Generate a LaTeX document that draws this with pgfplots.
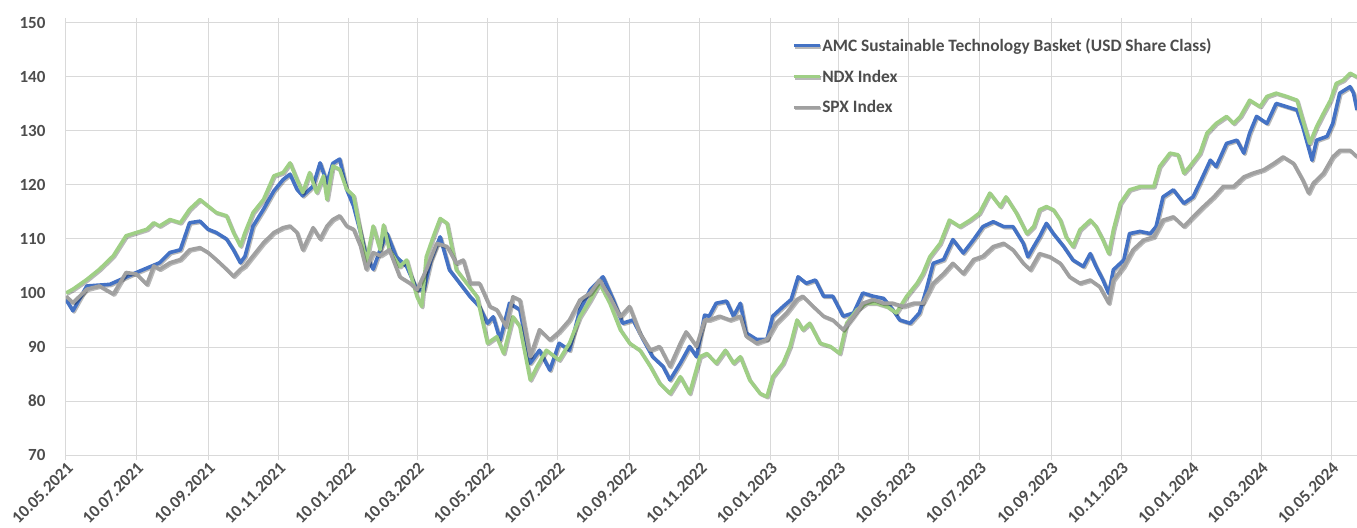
\documentclass[border=0pt]{standalone}
\usepackage{fontspec}
\setmainfont{Carlito}
\usepackage{pgfplots}
\usepackage{pgfplotstable}
\pgfplotsset{compat=1.18}

\definecolor{amcblue}{HTML}{4472C4}
\definecolor{ndxgreen}{HTML}{9FCF85}
\definecolor{spxgray}{HTML}{A0A0A0}
\definecolor{gridgray}{HTML}{D9D9D9}
\definecolor{labelgray}{HTML}{4D4D4D}

% day = days since 10.05.2021
\pgfplotstableread{
day val
0 98.8
6 96.7
18 101.3
38 101.6
61 103.8
81 105.6
90 107.5
99 108
107 113
116 113.3
123 111.8
130 111.2
139 110
145 108
151 105.6
155 106.8
162 112.4
171 115.5
180 118.9
188 121
194 122
200 119.2
205 118
214 119.8
220 124.1
226 120.4
231 124
237 124.8
243 119.2
249 116.1
255 111.2
260 106.9
266 104.4
272 108
278 111
286 106.7
295 104.9
304 100.6
310 100.6
316 106.1
324 110.4
332 104.3
341 101.8
350 99.3
358 97.5
365 94.4
370 95.6
376 91.3
384 98.1
393 96.9
402 87
410 89.4
419 85.7
427 90.7
436 89.4
445 96.9
454 100.6
465 103
474 98.7
482 94.4
491 95
500 91.3
508 88.2
517 86.4
523 83.9
532 87
540 90.1
546 88.2
553 95.9
557 95.7
563 98.1
572 98.5
578 95.7
584 98.1
589 92.6
598 91.4
607 91.4
612 95.7
621 97.5
628 98.8
634 103
641 101.8
649 102.4
656 99.4
664 99.4
673 95.7
682 96.3
690 100
699 99.4
708 99
716 96.9
722 95
731 94.4
739 96.3
745 100.6
751 105.5
760 106.2
768 109.9
777 107.4
786 109.9
794 112.3
803 113.2
812 112.3
820 112.3
829 109.2
833 106.7
838 108.6
843 110.4
849 112.9
855 111
864 108.6
872 106.1
881 104.9
887 107.3
892 104.9
898 102.4
903 99.9
907 104.3
916 106.1
921 111
930 111.4
939 111
944 112.3
950 117.8
959 119.1
968 116.6
976 117.8
983 120.9
991 124.6
996 123.4
1005 127.7
1014 128.3
1020 125.9
1025 129.6
1031 132.7
1040 131.4
1048 135.1
1057 134.5
1066 133.9
1071 130.8
1079 124.6
1083 128.3
1092 129
1097 131.4
1103 137
1112 138.2
1115 137
1118 133.9
}\amc

\pgfplotstableread{
day val
0 100
6 100.7
18 102.5
29 104.4
41 106.9
52 110.6
61 111.2
70 111.8
76 113
81 112.4
90 113.6
99 113
107 115.5
116 117.3
123 116.1
130 114.9
139 114.3
145 111.2
151 108.7
155 111.2
162 114.9
171 117.3
180 121.7
188 122.3
194 124.1
200 121
205 118.6
211 122.3
217 118.6
223 121.7
226 117.3
231 123.5
237 122.9
243 119.2
249 118
255 111.2
260 105.6
266 112.4
272 108
275 112.6
280 108
289 104.9
295 106.1
304 99.3
308 97.5
312 106.7
318 110.4
324 113.8
330 112.9
338 104.3
347 101.8
356 99.3
365 90.7
373 91.9
379 88.8
387 95.6
393 93.8
402 83.9
408 86.4
416 89.4
427 87.6
436 90.7
445 95.6
454 98.7
462 101.8
471 98.1
480 93.2
488 90.7
497 89.4
506 86.4
514 83.3
523 81.4
532 84.5
540 81.4
549 88.2
555 88.8
563 87
571 89.4
578 87
584 88.2
592 83.9
601 81.4
607 80.8
612 84.5
621 87
627 90.1
633 95
638 93.2
644 94.4
653 90.7
662 90.1
670 88.8
676 94.4
685 96.9
693 98.1
702 98.1
711 97.5
719 96.3
728 99.4
737 101.8
742 103.6
748 106.7
757 109.2
765 113.5
774 112.3
783 113.5
791 114.8
800 118.5
809 116
814 117.8
823 114.8
832 111
838 112.3
843 115.4
849 116
855 115.4
861 113.5
866 110.4
872 108.6
878 111.7
887 113.5
892 112.3
898 109.8
903 107.3
907 111.7
913 116.6
921 119.1
930 119.7
942 119.7
947 123.4
956 125.9
963 125.6
968 122.2
973 123.4
982 125.9
988 129.6
996 131.4
1005 132.7
1011 131.4
1017 132.7
1025 135.7
1034 134.5
1040 136.4
1048 137
1057 136.4
1066 135.7
1071 132
1077 127.7
1083 130.8
1089 133.3
1095 135.7
1100 138.8
1106 139.4
1112 140.7
1118 140
}\ndx

\pgfplotstableread{
day val
0 99.4
6 98.2
18 100.7
29 101.3
41 99.8
52 103.8
61 103.5
70 101.6
76 105
81 104.4
90 105.6
99 106.2
107 108
116 108.4
123 107.5
130 106.2
139 104.4
145 103.1
151 104.4
155 105
162 106.9
171 109.3
180 111.2
188 112.1
194 112.4
200 111.2
205 108
214 112.1
220 110
226 112.4
231 113.6
237 114.3
243 112.4
249 111.8
255 108.7
260 104.4
266 107.5
272 106.9
280 108
289 103
298 101.8
304 100.6
312 104.3
321 109.2
330 108.6
338 105.5
344 106.1
350 101.8
358 101.8
367 97.5
373 96.9
381 93.8
387 99.3
393 98.7
402 88.2
410 93.2
419 91.3
427 92.8
436 95
445 98.7
454 100
462 102.4
471 99.3
480 95.6
488 97.5
497 92.5
506 89.4
514 90.1
523 86.4
532 90.7
537 92.8
546 90.1
553 95
557 95
566 95.7
575 95
584 95.7
589 92
598 90.7
607 91.4
615 94.4
624 96.3
633 98.8
638 99.4
647 97.5
656 95.7
664 95
673 93.2
682 95.7
690 98.1
699 98.8
708 98.1
716 98.1
725 97.5
734 98.1
742 98.1
751 101.8
760 103.6
768 105.5
777 103.6
786 106.2
794 106.8
803 108.6
812 109.2
820 108
829 105.5
835 104.3
843 107.3
852 106.7
861 105.5
869 103
878 101.8
887 102.4
895 101.2
903 98.1
907 102.4
916 104.9
924 108
933 109.8
942 110.4
950 113.5
959 114.1
968 112.3
976 114.1
985 116
994 117.8
1002 119.7
1011 119.7
1020 121.5
1028 122.2
1037 122.8
1046 124
1054 125.2
1063 124
1071 120.9
1076 118.5
1080 120.3
1089 122.2
1097 125.2
1103 126.4
1112 126.4
1118 125.2
}\spx

\begin{document}
\begin{tikzpicture}
\begin{axis}[
    at={(0,0)}, anchor=south west,
    scale only axis,
    width=1291bp, height=432bp,
    xmin=0, xmax=1118,
    ymin=70, ymax=150,
    ytick={70,80,...,150},
    xtick={0,61,123,184,245,304,365,426,488,549,610,669,730,791,853,914,975,1035,1096},
    xticklabels={10.05.2021,10.07.2021,10.09.2021,10.11.2021,10.01.2022,10.03.2022,
                 10.05.2022,10.07.2022,10.09.2022,10.11.2022,10.01.2023,10.03.2023,
                 10.05.2023,10.07.2023,10.09.2023,10.11.2023,10.01.2024,10.03.2024,10.05.2024},
    /pgf/number format/assume math mode=true,
    grid=major,
    grid style={gridgray, line width=1bp},
    axis line style={draw=none},
    tick align=outside,
    major tick length=5bp,
    xtick style={draw=gridgray, line width=1bp},
    ytick style={draw=none},
    tick label style={font=\fontsize{17bp}{20bp}\selectfont\bfseries, text=labelgray},
    yticklabel style={xshift=-12bp},
    xticklabel style={rotate=45, anchor=north east, inner sep=1bp},
    legend cell align=left,
    legend style={draw=none, fill=none, at={(0.5624,0.967)}, anchor=north west,
        font=\fontsize{17.4bp}{20bp}\selectfont\bfseries, text=labelgray,
        row sep=15bp, inner sep=0pt,
        nodes={inner sep=1bp}},
    legend image code/.code={\draw[#1, line width=3bp] (0bp,0bp) -- (26bp,0bp);},
    line join=round,
    shadowed/.style={preaction={draw=black, draw opacity=0.28, line width=3.5bp,
        transform canvas={shift={(1.2bp,-1.2bp)}}}},
]
\addplot[amcblue, line width=3.6bp, shadowed] table[x=day, y=val] {\amc};
\addplot[ndxgreen, line width=3.6bp, shadowed] table[x=day, y=val] {\ndx};
\addplot[spxgray, line width=3.6bp, shadowed] table[x=day, y=val] {\spx};
\legend{AMC Sustainable Technology Basket (USD Share Class), NDX Index, SPX Index}
\end{axis}
\pgfresetboundingbox
\path[use as bounding box] (-66bp,-73bp) rectangle (1291bp,455bp);
\end{tikzpicture}
\end{document}
